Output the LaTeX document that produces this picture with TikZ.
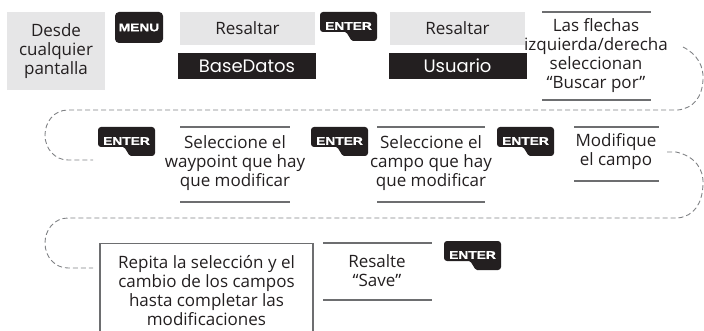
\documentclass[tikz,border=0pt]{standalone}
\usepackage{fontspec}
\setmainfont{Open Sans}
\newfontfamily\keyfont{Liberation Sans Bold}[FakeStretch=1.25, FakeBold=1]
\newfontfamily\screenfont{Poppins}

\definecolor{keyblack}{HTML}{231F20}
\definecolor{panelgray}{HTML}{E6E6E7}
\definecolor{rulegray}{HTML}{6D6E70}
\definecolor{loopgray}{HTML}{808285}

\tikzset{
  paso/.style={align=center, text=keyblack, font=\fontsize{17}{19}\selectfont},
  gris/.style={fill=panelgray, inner sep=0pt},
  pantalla/.style={fill=keyblack, text=white, inner sep=0pt,
    font=\screenfont\fontsize{18}{19}\selectfont},
  tecla/.style={text=white, inner sep=0pt, font=\keyfont\fontsize{11}{12}\selectfont},
  regla/.style={draw=rulegray, line width=1.1pt},
  lazo/.style={draw=loopgray, dash pattern=on 5pt off 3pt, line width=0.9pt},
  enterkey/.pic={
    \fill[keyblack, rounded corners=3pt] (0,20) -- (0,0) -- (57,0) -- (57,29) -- (36,29)
      .. controls (30,29) and (28,20) .. (22,20) -- cycle;
    \node[tecla] (-label) at (28.5,14) {ENTER};
  }
}

\begin{document}
\begin{tikzpicture}[x=1pt, y=-1pt]

\useasboundingbox (0,0) rectangle (704,331);

% fila 1
\node[paso, gris, minimum width=98pt, minimum height=78pt] (desde) at (56,51) {Desde\\cualquier\\pantalla};
\node[tecla, fill=keyblack, rounded corners=4pt, minimum width=48pt, minimum height=31pt] (menu) at (139,27.5) {MENU};
\node[paso, gris, minimum width=135pt, minimum height=33pt] (resaltar1) at (247.5,28.5) {Resaltar};
\node[pantalla, minimum width=138pt, minimum height=26pt] (basedatos) at (247,66) {BaseDatos};
\pic (e1) at (320,12) {enterkey};
\node[paso, gris, minimum width=135pt, minimum height=33pt] (resaltar2) at (457.5,28.5) {Resaltar};
\node[pantalla, minimum width=138pt, minimum height=26pt] (usuario) at (457.5,66) {Usuario};
\node[paso] (flechas) at (596,56) {Las flechas\\izquierda/derecha\\seleccionan\\“Buscar por”};
\draw[regla] (542,12) -- (651,12);
\draw[regla] (542,100) -- (651,100);

% lazo 1
\draw[lazo] (683,47) .. controls (697,54) and (704,66) .. (703,80)
  .. controls (702,97) and (694,108) .. (678,110) -- (68,110)
  .. controls (54,110) and (45,122) .. (45,135)
  .. controls (45,149) and (55,160) .. (68,160) -- (93,160);

% fila 2
\pic (e2) at (98,127) {enterkey};
\node[paso] (waypoint) at (235,163) {Seleccione el\\waypoint que hay\\que modificar};
\draw[regla] (180,127) -- (290,127);
\draw[regla] (180,202) -- (290,202);
\pic (e3) at (311,127) {enterkey};
\node[paso] (campo) at (431,163) {Seleccione el\\campo que hay\\que modificar};
\draw[regla] (377,127) -- (485,127);
\draw[regla] (377,202) -- (485,202);
\pic (e4) at (497,127) {enterkey};
\node[paso] (modifique) at (616,152) {Modifique\\el campo};
\draw[regla] (574,127) -- (659,127);
\draw[regla] (574,181) -- (659,181);

% lazo 2
\draw[lazo] (667,152) -- (676,152) .. controls (694,156) and (704,168) .. (703,185)
  .. controls (702,204) and (694,216) .. (678,218) -- (68,218)
  .. controls (54,218) and (45,230) .. (45,243)
  .. controls (45,257) and (55,268) .. (68,268) -- (93,268);

% fila 3
\node[paso, draw=rulegray, line width=1.1pt, minimum width=213pt, minimum height=95pt, anchor=north] (repita) at (206.5,243)
  {Repita la selección y el\\cambio de los campos\\hasta completar las\\modificaciones};
\node[paso] (resalte) at (377,271) {Resalte\\“Save”};
\draw[regla] (323,243) -- (432,243);
\draw[regla] (323,300) -- (432,300);
\pic (e5) at (444,241) {enterkey};

\end{tikzpicture}
\end{document}
